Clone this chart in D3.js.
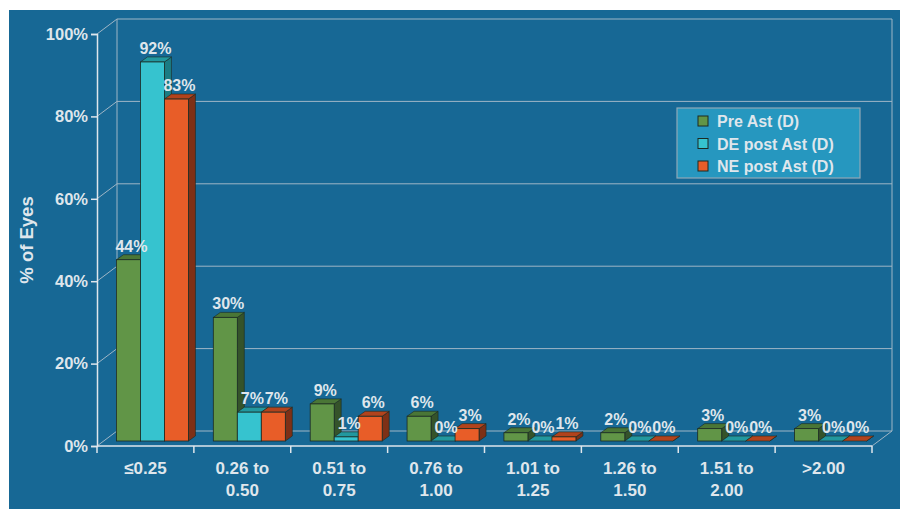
<!DOCTYPE html>
<html>
<head>
<meta charset="utf-8">
<script src="https://cdn.jsdelivr.net/npm/d3@7"></script>
<style>
  body { margin: 0; background: #ffffff; }
  text { font-family: Arial, "Liberation Sans", sans-serif; font-weight: bold; fill: #dfe6ec; }
</style>
</head>
<body>
<script>
'use strict';

// chart values
const categories = [["≤0.25"], ["0.26 to", "0.50"], ["0.51 to", "0.75"], ["0.76 to", "1.00"],
                    ["1.01 to", "1.25"], ["1.26 to", "1.50"], ["1.51 to", "2.00"], [">2.00"]];
const seriesNames = ["Pre Ast (D)", "DE post Ast (D)", "NE post Ast (D)"];
const preAst = [44, 30, 9, 6, 2, 2, 3, 3];
const dePostAst = [92, 7, 1, 0, 0, 0, 0, 0];
const nePostAst = [83, 7, 6, 3, 1, 0, 0, 0];
const yTicks = [0, 20, 40, 60, 80, 100];

const series = [preAst, dePostAst, nePostAst];
const fills = [
  { front: "#619547", top: "#4a7636", side: "#35532a" },
  { front: "#36c3cf", top: "#22989f", side: "#1b7c83" },
  { front: "#e85d28", top: "#b2431c", side: "#7e3016" }
];

const width = 904, height = 509;
const depthX = 20, depthY = -15;      // floor / wall depth
const barDX = 7, barDY = -5;          // bar depth (one third of floor)

const svg = d3.select("body").append("svg")
  .attr("width", width)
  .attr("height", height);

// blue panel
svg.append("rect")
  .attr("x", 9).attr("y", 10)
  .attr("width", 891).attr("height", 499)
  .attr("fill", "#176895");

const x = d3.scaleBand()
  .domain(d3.range(categories.length))
  .range([97, 872]);

const inner = d3.scaleBand()
  .domain(d3.range(series.length))
  .range([0, 72]);

const y = d3.scaleLinear()
  .domain([0, 100])
  .range([446, 34]);

const gridColor = "#9fb6c6";
const x0 = x.range()[0], x1 = x.range()[1];

// back wall gridlines and left wall connectors
yTicks.forEach(function(t) {
  svg.append("line")
    .attr("x1", x0 + depthX).attr("x2", x1 + depthX)
    .attr("y1", y(t) + depthY).attr("y2", y(t) + depthY)
    .attr("stroke", gridColor).attr("stroke-width", 1);
  svg.append("line")
    .attr("x1", x0).attr("x2", x0 + depthX)
    .attr("y1", y(t)).attr("y2", y(t) + depthY)
    .attr("stroke", gridColor).attr("stroke-width", 1);
});

// back wall edges
svg.append("line")
  .attr("x1", x0 + depthX).attr("x2", x0 + depthX)
  .attr("y1", y(100) + depthY).attr("y2", y(0) + depthY)
  .attr("stroke", gridColor);
svg.append("line")
  .attr("x1", x1 + depthX).attr("x2", x1 + depthX)
  .attr("y1", y(100) + depthY).attr("y2", y(0) + depthY)
  .attr("stroke", gridColor);
// floor right edge
svg.append("line")
  .attr("x1", x1).attr("x2", x1 + depthX)
  .attr("y1", y(0)).attr("y2", y(0) + depthY)
  .attr("stroke", gridColor);

// bars
const groups = svg.selectAll("g.cat")
  .data(categories)
  .enter()
  .append("g")
  .attr("class", "cat");

groups.each(function(c, i) {
  let g = d3.select(this);
  let start = x(i) + (x.bandwidth() - 72) / 2;
  series.forEach(function(s, j) {
    let v = s[i];
    let bx = start + inner(j) + barDX;
    let w = inner.bandwidth();
    let top = y(v) + barDY;
    let bottom = y(0) + barDY;
    let col = fills[j];
    // side face
    g.append("polygon")
      .attr("points", [[bx + w, top], [bx + w + barDX, top + barDY],
                       [bx + w + barDX, bottom + barDY], [bx + w, bottom]].join(" "))
      .attr("fill", col.side).attr("stroke", "#1c2a22").attr("stroke-width", 0.6);
    // top face
    g.append("polygon")
      .attr("points", [[bx, top], [bx + barDX, top + barDY],
                       [bx + w + barDX, top + barDY], [bx + w, top]].join(" "))
      .attr("fill", col.top).attr("stroke", "#1c2a22").attr("stroke-width", 0.6);
    // front face
    if (v > 0) {
      g.append("rect")
        .attr("x", bx).attr("y", top)
        .attr("width", w).attr("height", bottom - top)
        .attr("fill", col.front).attr("stroke", "#1c2a22").attr("stroke-width", 0.8);
    }
  });
});

// value labels on top of everything
groups.each(function(c, i) {
  let g = d3.select(this);
  let start = x(i) + (x.bandwidth() - 72) / 2;
  series.forEach(function(s, j) {
    let v = s[i];
    g.append("text")
      .attr("x", start + inner(j) + barDX + inner.bandwidth() / 2 + 3)
      .attr("y", y(v) + barDY * 2 - 3)
      .attr("text-anchor", "middle")
      .style("font-size", "16px")
      .text(v + "%");
  });
});

// y axis
const yAxis = d3.axisLeft(y)
  .tickValues(yTicks)
  .tickFormat((d) => d + "%")
  .tickSize(6)
  .tickPadding(3);

const yg = svg.append("g")
  .attr("transform", "translate(" + x0 + ",0)")
  .call(yAxis);
yg.select(".domain").attr("stroke", "#dfe6ec").attr("stroke-width", 1.5);
yg.selectAll(".tick line").attr("stroke", "#dfe6ec").attr("stroke-width", 1.5);
yg.selectAll(".tick text")
  .attr("fill", "#dfe6ec")
  .style("font-size", "16.5px")
  .style("font-family", "Arial, 'Liberation Sans', sans-serif")
  .style("font-weight", "bold");

// x axis line and ticks between categories
const xg = svg.append("g");
xg.append("line")
  .attr("x1", x0).attr("x2", x1)
  .attr("y1", y(0)).attr("y2", y(0))
  .attr("stroke", "#dfe6ec").attr("stroke-width", 1.5);
xg.selectAll("line.tick")
  .data(d3.range(categories.length + 1))
  .enter()
  .append("line")
  .attr("x1", (d) => x0 + d * x.step())
  .attr("x2", (d) => x0 + d * x.step())
  .attr("y1", y(0)).attr("y2", y(0) + 7)
  .attr("stroke", "#dfe6ec").attr("stroke-width", 1.5);

// category labels
categories.forEach(function(lines, i) {
  let t = xg.append("text")
    .attr("x", x(i) + x.bandwidth() / 2)
    .attr("y", 474)
    .attr("text-anchor", "middle")
    .style("font-size", "17px");
  lines.forEach(function(l, k) {
    t.append("tspan")
      .attr("x", x(i) + x.bandwidth() / 2)
      .attr("dy", k === 0 ? 0 : 22)
      .text(l);
  });
});

// y axis title
svg.append("text")
  .attr("transform", "rotate(-90)")
  .attr("x", -240)
  .attr("y", 33)
  .attr("text-anchor", "middle")
  .style("font-size", "18.5px")
  .text("% of Eyes");

// legend
const legend = svg.append("g").attr("transform", "translate(677,108)");
legend.append("rect")
  .attr("width", 183).attr("height", 70)
  .attr("fill", "#2697bf")
  .attr("stroke", "#8fa9b8").attr("stroke-width", 1.2);
seriesNames.forEach(function(name, j) {
  legend.append("rect")
    .attr("x", 21).attr("y", 8 + j * 22.5)
    .attr("width", 10).attr("height", 10)
    .attr("fill", fills[j].front)
    .attr("stroke", "#1c2a22").attr("stroke-width", 1);
  legend.append("text")
    .attr("x", 40).attr("y", 19 + j * 22.5)
    .style("font-size", "16px")
    .text(name);
});
</script>
</body>
</html>
